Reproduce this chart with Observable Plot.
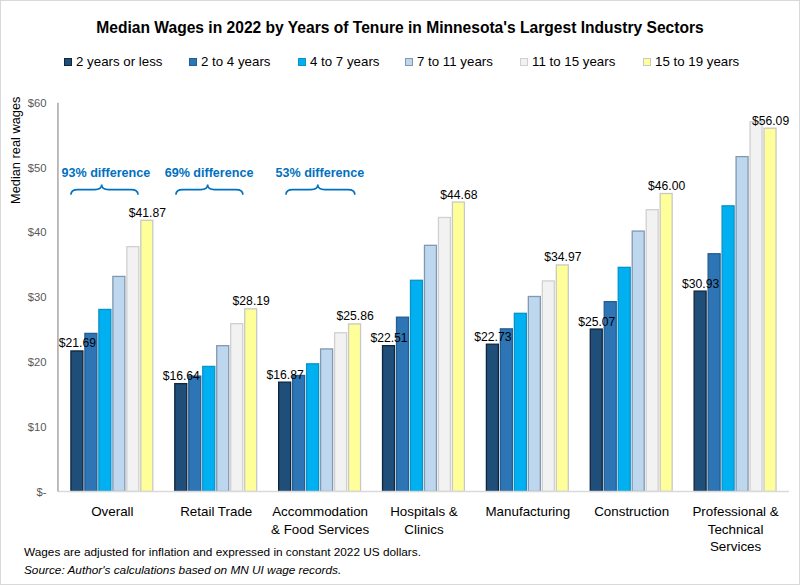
<!DOCTYPE html>
<html><head><meta charset="utf-8">
<script src="https://cdn.jsdelivr.net/npm/d3@7"></script>
<script src="https://cdn.jsdelivr.net/npm/@observablehq/plot@0.6"></script>
<style>
body{margin:0;background:#fff;}
#wrap{position:relative;width:798px;height:583px;border:1px solid #d9d9d9;font-family:"Liberation Sans",Arial,sans-serif;overflow:hidden;background:#fff}
#title{position:absolute;left:0;width:798px;top:18px;text-align:center;font-weight:bold;font-size:15.6px;color:#000}
.leg{position:absolute;top:53px;font-size:13.3px;color:#000;white-space:nowrap;display:flex;align-items:center}
.leg span.sw{display:inline-block;width:8px;height:8px;margin-right:4px;box-sizing:border-box;border:1px solid}
#ylab{position:absolute;left:7px;top:203px;transform-origin:0 0;transform:rotate(-90deg);font-size:12.8px;white-space:nowrap;color:#000}
#note{position:absolute;left:23px;top:542px;font-size:11.8px;color:#000;line-height:18px}
#chart{position:absolute;left:-1px;top:-1px}
</style></head><body><div id="wrap">
<div id="title">Median Wages in 2022 by Years of Tenure in Minnesota's Largest Industry Sectors</div>
<div id="legend"></div>
<div id="ylab">Median real wages</div>
<div id="chart"></div>
<div id="note">Wages are adjusted for inflation and expressed in constant 2022 US dollars.<br><i>Source: Author's calculations based on MN UI wage records.</i></div>
</div>
<script>
const sectors = ["Overall","Retail Trade","Accommodation & Food Services","Hospitals & Clinics","Manufacturing","Construction","Professional & Technical Services"];
const sectorLabels = ["Overall","Retail Trade","Accommodation\n& Food Services","Hospitals &\nClinics","Manufacturing","Construction","Professional &\nTechnical\nServices"];
const tenures = ["2 years or less","2 to 4 years","4 to 7 years","7 to 11 years","11 to 15 years","15 to 19 years"];
const wagesUpTo2 = [21.69,16.64,16.87,22.51,22.73,25.07,30.93];
const wages2to4 = [24.4,17.8,17.9,26.9,25.1,29.3,36.7];
const wages4to7 = [28.1,19.3,19.7,32.6,27.5,34.6,44.1];
const wages7to11 = [33.2,22.5,22.0,38.0,30.1,40.2,51.7];
const wages11to15 = [37.8,25.9,24.5,42.3,32.5,43.5,57.1];
const wages15to19 = [41.87,28.19,25.86,44.68,34.97,46.00,56.09];
const fillColors = ["#1f4e79","#2e75b6","#00b0f0","#bdd7ee","#f2f2f2","#ffff99"];
const strokeColors = ["#0f263d","#245d91","#0a93c8","#8497b0","#d0d0d0","#c8c8c8"];
const yTicks = [0,10,20,30,40,50,60];
const diffSectors = ["Overall","Retail Trade","Accommodation & Food Services"];
const diffLabels = ["93% difference","69% difference","53% difference"];

const series = [wagesUpTo2,wages2to4,wages4to7,wages7to11,wages11to15,wages15to19];
const data = [];
sectors.forEach((s,i)=>tenures.forEach((t,j)=>data.push({sector:s,tenure:t,wage:series[j][i],edge:j===0||j===tenures.length-1})));
const labelOf = new Map(sectors.map((s,i)=>[s,sectorLabels[i]]));
const fillOf = new Map(tenures.map((t,j)=>[t,fillColors[j]]));
const strokeOf = new Map(tenures.map((t,j)=>[t,strokeColors[j]]));

// brace annotation geometry in tenure-band units (start, tip, end, text centre)
const braceFrom = [0.0,0.08,0.52], braceTip=[2.2,2.35,2.8], braceTo=[4.8,4.87,5.45], braceText=[2.5,2.45,2.95];
const braces = diffSectors.map((s,i)=>({sector:s,label:diffLabels[i],from:braceFrom[i],tip:braceTip[i],to:braceTo[i],tx:braceText[i],yEnd:45.8,yTip:47.4,yText:49.1}));

// legend
const legX = [63,188,297,404,519,642];
const leg = document.getElementById("legend");
tenures.forEach((t,j)=>{
  const d = document.createElement("div"); d.className="leg"; d.style.left=legX[j]+"px";
  d.innerHTML = `<span class="sw" style="background:${fillColors[j]};border-color:${strokeColors[j]}"></span>${t}`;
  leg.appendChild(d);
});

const blue = "#0070c0";
const chart = Plot.plot({
  width: 800, height: 585,
  marginTop: 103, marginBottom: 93, marginLeft: 58, marginRight: 10,
  style: {fontFamily: '"Liberation Sans",Arial,sans-serif', background: "transparent"},
  x: {domain: tenures, paddingInner: 0.17, paddingOuter: 0, axis: null},
  fx: {domain: sectors, paddingInner: 0.21, paddingOuter: 0.105, label: null},
  y: {domain: [0,60], label: null},
  color: {type: "identity"},
  marks: [
    Plot.axisY({ticks: yTicks, tickSize: 0, tickPadding: 25, tickFormat: d => d === 0 ? "$-" : "$" + d, fontSize: 11.3, color: "#595959", label: null}),
    Plot.axisFx({anchor: "bottom", tickSize: 0, tickPadding: 12, tickFormat: d => labelOf.get(d), fontSize: 13.4, lineHeight: 1.3, color: "#000", label: null}),
    Plot.barY(data, {fx: "sector", x: "tenure", y: "wage", fill: d => fillOf.get(d.tenure), stroke: d => strokeOf.get(d.tenure), strokeWidth: 1.3}),
    Plot.text(data.filter(d=>d.edge), {fx: "sector", x: "tenure", y: "wage", text: d => "$" + d.wage.toFixed(2), lineAnchor: "bottom", dy: -4, fontSize: 12.2, fill: "#000"}),
    Plot.text(braces, {fx: "sector", x: () => tenures[0], y: "yText", text: "label",
      render(index, scales, values, dimensions, context) {
        const xs = scales.x, ys = scales.y;
        const x0 = xs(tenures[0]), step = xs(tenures[1]) - xs(tenures[0]);
        const g = d3.create("svg:g");
        for (const i of index) {
          const b = braces[i];
          const xa = x0 + b.from*step, xt = x0 + b.tip*step, xb = x0 + b.to*step;
          const ye = ys(b.yEnd), yt = ys(b.yTip), ym = (ye+yt)/2, q = 7;
          const p = `M${xa},${ye} Q${xa},${ym} ${xa+q},${ym} L${xt-q},${ym} Q${xt},${ym} ${xt},${yt} Q${xt},${ym} ${xt+q},${ym} L${xb-q},${ym} Q${xb},${ym} ${xb},${ye}`;
          g.append("path").attr("d", p).attr("fill","none").attr("stroke", blue).attr("stroke-width", 1.6);
          g.append("text").attr("x", x0 + b.tx*step).attr("y", ys(b.yText)).attr("text-anchor","middle").attr("dy","0.32em")
            .attr("fill", blue).attr("font-weight","bold").attr("font-size", 12.6).text(b.label);
        }
        return g.node();
      }})
  ]
});
// axis lines drawn from the plot's own scales
const ysc = chart.scale("y");
const svg = d3.select(chart.tagName === "svg" ? chart : chart.querySelector("svg"));
const left = 58, right = 790;
svg.append("line").attr("x1", left).attr("x2", right).attr("y1", ysc.apply(0)).attr("y2", ysc.apply(0)).attr("stroke", "#d9d9d9").attr("stroke-width", 1.5);
svg.append("line").attr("x1", left).attr("x2", left).attr("y1", ysc.apply(0)).attr("y2", ysc.apply(60)).attr("stroke", "#a6a6a6").attr("stroke-width", 1.5);
document.getElementById("chart").appendChild(chart);
</script>
</body></html>
